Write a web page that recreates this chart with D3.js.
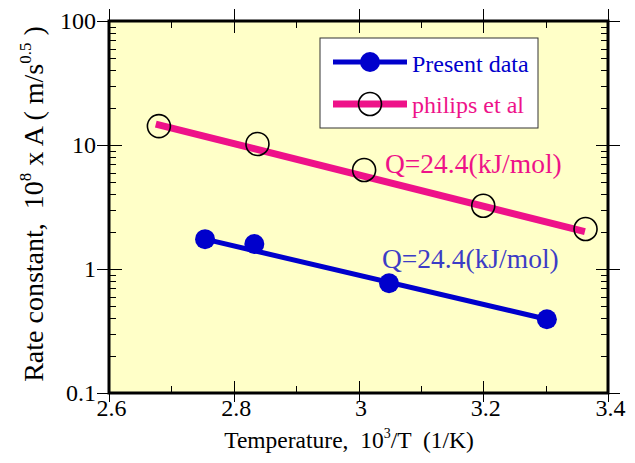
<!DOCTYPE html>
<html>
<head>
<meta charset="utf-8">
<script src="https://cdn.jsdelivr.net/npm/d3@7/dist/d3.min.js"></script>
<style>
  html, body { margin: 0; padding: 0; background: #ffffff; }
  svg { display: block; }
  text { font-family: "Liberation Serif", "Times New Roman", serif; }
</style>
</head>
<body>
<svg id="chart" width="635" height="463"></svg>
<script>
// Present data: measured rate constants vs inverse temperature
const presentX = [2.754, 2.833, 3.049, 3.302];
const presentY = [1.74, 1.59, 0.767, 0.393];
// Fitted Arrhenius line through present data
const presentFitX = [2.754, 3.302];
const presentFitY = [1.74, 0.393];

// Philips et al. reference values
const philipsX = [2.680, 2.838, 3.009, 3.200, 3.364];
const philipsY = [14.2, 10.2, 6.29, 3.24, 2.10];
// Fitted Arrhenius line through Philips et al. values
const philipsFitX = [2.675, 3.363];
const philipsFitY = [14.75, 2.0];

// Axis ticks
const xMajorTicks = [2.6, 2.8, 3.0, 3.2, 3.4];
const xMinorTicks = [2.7, 2.9, 3.1, 3.3];
const yMajorTicks = [0.1, 1, 10, 100];
const yTickLabels = ["0.1", "1", "10", "100"];
const yMinorTicks = [0.2,0.3,0.4,0.5,0.6,0.7,0.8,0.9, 2,3,4,5,6,7,8,9, 20,30,40,50,60,70,80,90];

const legendLabels = ["Present data", "philips et al"];
const activationLabels = ["Q=24.4(kJ/mol)", "Q=24.4(kJ/mol)"];

const BLUE = "#0000cc";
const PINK = "#ee1289";
const BLUE_TEXT = "#3c3cc6";
const SERIF = '"Liberation Serif", "Times New Roman", serif';
const TICK_FONT = 24;

const svg = d3.select("#chart");
const L = 109, R = 608, T = 21, B = 393;

const x = d3.scaleLinear().domain([2.6, 3.4]).range([L, R]);
const y = d3.scaleLog().domain([0.1, 100]).range([B, T]);

// Plot background
svg.append("rect")
  .attr("x", L).attr("y", T).attr("width", R - L).attr("height", B - T)
  .attr("fill", "#ffffc8");

function styleAxis(g) {
  g.select(".domain").remove();
  g.selectAll(".tick line").attr("stroke", "#000").attr("stroke-width", 1)
    .attr("shape-rendering", "crispEdges");
  g.selectAll(".tick text")
    .attr("fill", "#000")
    .style("font-family", SERIF)
    .style("font-size", TICK_FONT + "px");
}

// Left axis: outward majors with labels, inward majors and minors
svg.append("g").attr("transform", `translate(${L},0)`)
  .call(d3.axisLeft(y).tickValues(yMajorTicks).tickSize(12).tickPadding(1)
    .tickFormat((d, i) => yTickLabels[i]))
  .call(styleAxis);
svg.append("g").attr("transform", `translate(${L},0)`)
  .call(d3.axisRight(y).tickValues(yMajorTicks).tickSize(13).tickFormat(""))
  .call(styleAxis);
svg.append("g").attr("transform", `translate(${L},0)`)
  .call(d3.axisRight(y).tickValues(yMinorTicks).tickSize(7).tickFormat(""))
  .call(styleAxis);

// Right axis: outward and inward majors, inward minors
svg.append("g").attr("transform", `translate(${R},0)`)
  .call(d3.axisRight(y).tickValues(yMajorTicks).tickSize(12).tickFormat(""))
  .call(styleAxis);
svg.append("g").attr("transform", `translate(${R},0)`)
  .call(d3.axisLeft(y).tickValues(yMajorTicks).tickSize(12).tickFormat(""))
  .call(styleAxis);
svg.append("g").attr("transform", `translate(${R},0)`)
  .call(d3.axisLeft(y).tickValues(yMinorTicks).tickSize(7).tickFormat(""))
  .call(styleAxis);

// Bottom axis
svg.append("g").attr("transform", `translate(0,${B})`)
  .call(d3.axisBottom(x).tickValues(xMajorTicks).tickSize(9).tickPadding(-3)
    .tickFormat(d3.format("")))
  .call(styleAxis)
  .call(g => g.selectAll(".tick text").attr("dx", "2"));
svg.append("g").attr("transform", `translate(0,${B})`)
  .call(d3.axisTop(x).tickValues(xMajorTicks).tickSize(12).tickFormat(""))
  .call(styleAxis);
svg.append("g").attr("transform", `translate(0,${B})`)
  .call(d3.axisTop(x).tickValues(xMinorTicks).tickSize(7).tickFormat(""))
  .call(styleAxis);

// Top axis
svg.append("g").attr("transform", `translate(0,${T})`)
  .call(d3.axisTop(x).tickValues(xMajorTicks).tickSize(12).tickFormat(""))
  .call(styleAxis);
svg.append("g").attr("transform", `translate(0,${T})`)
  .call(d3.axisBottom(x).tickValues(xMajorTicks).tickSize(12).tickFormat(""))
  .call(styleAxis);
svg.append("g").attr("transform", `translate(0,${T})`)
  .call(d3.axisBottom(x).tickValues(xMinorTicks).tickSize(7).tickFormat(""))
  .call(styleAxis);

// Plot frame
svg.append("rect")
  .attr("x", L).attr("y", T).attr("width", R - L).attr("height", B - T)
  .attr("fill", "none").attr("stroke", "#000").attr("stroke-width", 3);

// Philips et al. fit line and open circles
const line = d3.line().x(d => x(d[0])).y(d => y(d[1]));
svg.append("path")
  .datum(d3.zip(philipsFitX, philipsFitY))
  .attr("d", line).attr("fill", "none")
  .attr("stroke", PINK).attr("stroke-width", 7);
svg.append("g").selectAll("circle")
  .data(d3.zip(philipsX, philipsY)).join("circle")
  .attr("cx", d => x(d[0])).attr("cy", d => y(d[1])).attr("r", 11.5)
  .attr("fill", "none").attr("stroke", "#000").attr("stroke-width", 1.6);

// Present data fit line and filled circles
svg.append("path")
  .datum(d3.zip(presentFitX, presentFitY))
  .attr("d", line).attr("fill", "none")
  .attr("stroke", BLUE).attr("stroke-width", 5);
svg.append("g").selectAll("circle")
  .data(d3.zip(presentX, presentY)).join("circle")
  .attr("cx", d => x(d[0])).attr("cy", d => y(d[1])).attr("r", 10)
  .attr("fill", BLUE);

// Activation energy annotations
svg.append("text").attr("x", 385).attr("y", 173)
  .attr("fill", PINK).style("font-size", "27.5px").text(activationLabels[1]);
svg.append("text").attr("x", 382).attr("y", 268)
  .attr("fill", BLUE_TEXT).style("font-size", "27.5px").text(activationLabels[0]);

// Legend
const lg = svg.append("g");
lg.append("rect").attr("x", 320).attr("y", 38).attr("width", 218).attr("height", 90)
  .attr("fill", "#ffffff").attr("stroke", "#333").attr("stroke-width", 1);
lg.append("line").attr("x1", 333).attr("x2", 407).attr("y1", 62).attr("y2", 62)
  .attr("stroke", BLUE).attr("stroke-width", 5);
lg.append("circle").attr("cx", 370).attr("cy", 62).attr("r", 10).attr("fill", BLUE);
lg.append("text").attr("x", 412).attr("y", 72).attr("fill", BLUE)
  .style("font-size", "24px").text(legendLabels[0]);
lg.append("line").attr("x1", 333).attr("x2", 407).attr("y1", 104).attr("y2", 104)
  .attr("stroke", PINK).attr("stroke-width", 7);
lg.append("circle").attr("cx", 370).attr("cy", 104).attr("r", 11.5)
  .attr("fill", "none").attr("stroke", "#000").attr("stroke-width", 1.6);
lg.append("text").attr("x", 412).attr("y", 113).attr("fill", PINK)
  .style("font-size", "24px").text(legendLabels[1]);

// Axis titles
const xt = svg.append("text").attr("x", 349).attr("y", 448)
  .attr("text-anchor", "middle").attr("fill", "#000")
  .style("font-size", "23.5px").attr("xml:space", "preserve");
xt.append("tspan").text("Temperature,  10");
xt.append("tspan").attr("dy", -10).style("font-size", "14px").text("3");
xt.append("tspan").attr("dy", 10).text("/T  (1/K)");

const yt = svg.append("text")
  .attr("transform", "translate(43,204) rotate(-90)")
  .attr("text-anchor", "middle").attr("fill", "#000")
  .style("font-size", "28px").attr("xml:space", "preserve");
yt.append("tspan").text("Rate constant,  10");
yt.append("tspan").attr("dy", -12).style("font-size", "17px").text("8");
yt.append("tspan").attr("dy", 12).text(" x A ( m/s");
yt.append("tspan").attr("dy", -12).style("font-size", "17px").text("0.5");
yt.append("tspan").attr("dy", 12).text(" )");
</script>
</body>
</html>
